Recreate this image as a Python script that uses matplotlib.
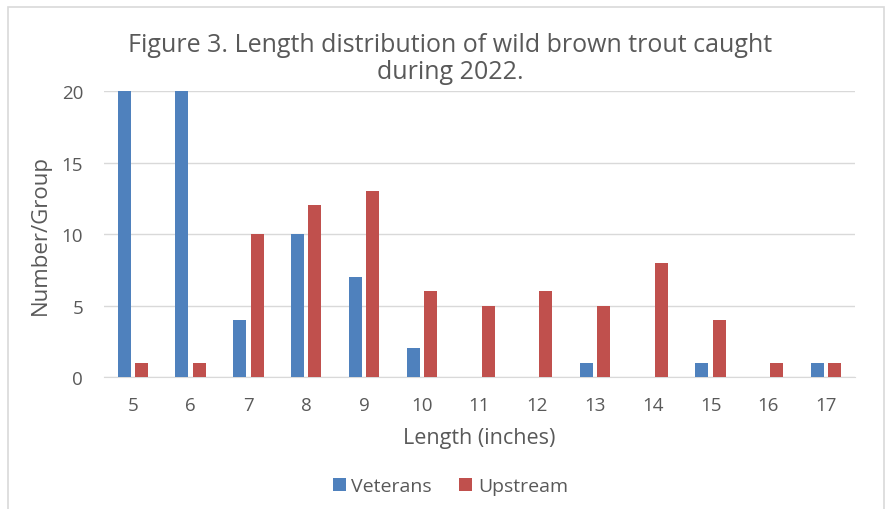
import numpy as np
import matplotlib.pyplot as plt
import matplotlib.patches as mpatches

# lengths (inches) and counts per group
lengths = [5, 6, 7, 8, 9, 10, 11, 12, 13, 14, 15, 16, 17]
veterans = [20, 20, 4, 10, 7, 2, 0, 0, 1, 0, 1, 0, 1]
upstream = [1, 1, 10, 12, 13, 6, 5, 6, 5, 8, 4, 1, 1]
y_ticks = [0, 5, 10, 15, 20]

BLUE = "#4F81BD"
RED = "#C0504D"
TEXT = "#595959"

plt.rcParams["font.family"] = ["Open Sans", "DejaVu Sans"]

fig = plt.figure(figsize=(8.92, 5.10), dpi=100)
ax = fig.add_axes([0.1166, 0.2588, 0.8419, 0.5608])

# outer chart frame
fig.patches.append(mpatches.Rectangle(
    (8 / 892, -0.05), 876 / 892, 1.05 - 8 / 510,
    transform=fig.transFigure, fill=False, edgecolor="#D9D9D9", linewidth=1.2))

x = np.arange(len(lengths))
width = 0.225
ax.bar(x - 0.15, veterans, width, color=BLUE, label="Veterans", zorder=3)
ax.bar(x + 0.15, upstream, width, color=RED, label="Upstream", zorder=3)

ax.set_xlim(-0.5, len(lengths) - 0.5)
ax.set_ylim(0, 20)
ax.set_yticks(y_ticks)
ax.set_xticks(x)
ax.set_xticklabels([str(v) for v in lengths])
ax.yaxis.grid(True, color="#D9D9D9", linewidth=1, zorder=0)
ax.set_axisbelow(True)
for side in ["top", "right", "left"]:
    ax.spines[side].set_visible(False)
ax.spines["bottom"].set_color("#D9D9D9")
ax.tick_params(length=0, labelsize=13.5, colors=TEXT)
ax.tick_params(axis="x", pad=14)
ax.tick_params(axis="y", pad=15)

ax.set_xlabel("Length (inches)", fontsize=15.5, color=TEXT, labelpad=9)
ax.set_ylabel("Number/Group", fontsize=16, color=TEXT, labelpad=8)

fig.text(0.505, 0.884, "Figure 3. Length distribution of wild brown trout caught\nduring 2022.",
         ha="center", va="center", fontsize=18, color=TEXT, linespacing=1.1)

leg = fig.legend(loc="center", bbox_to_anchor=(0.505, 0.045), ncol=2, frameon=False,
                 fontsize=14, handlelength=0.65, handleheight=0.65,
                 columnspacing=1.4, handletextpad=0.3)
for t in leg.get_texts():
    t.set_color(TEXT)

fig.savefig("out.png", dpi=100)
